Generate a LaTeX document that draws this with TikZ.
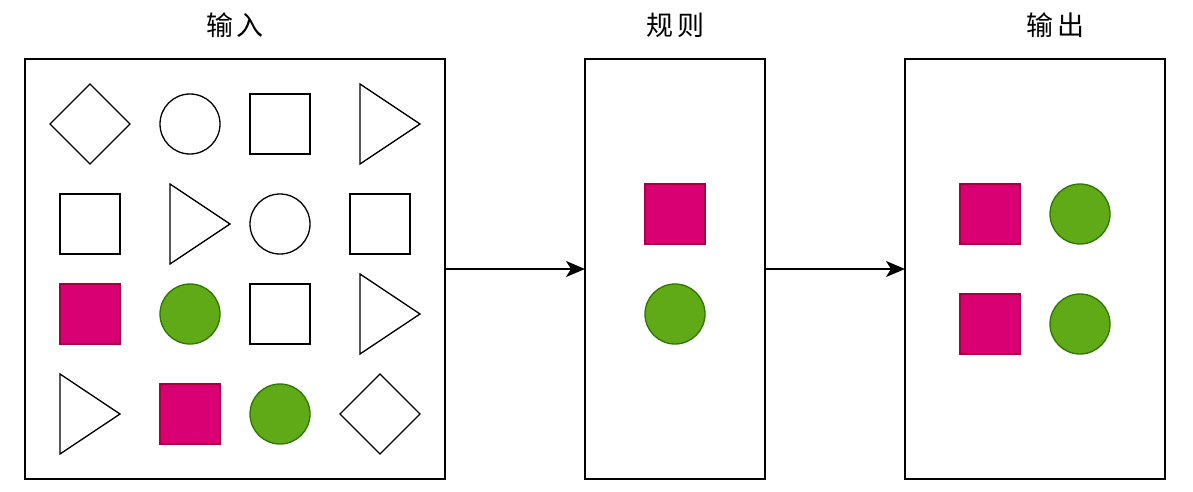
\documentclass[tikz,border=0pt]{standalone}
\usepackage{fontspec}
\newfontfamily\cjk{Noto Sans CJK SC}
\usetikzlibrary{arrows.meta}
\definecolor{pinkfill}{HTML}{D80073}
\definecolor{pinkline}{HTML}{A50040}
\definecolor{greenfill}{HTML}{60A917}
\definecolor{greenline}{HTML}{2D7600}
\tikzset{
  frame/.style={draw=black, line width=1.5pt, fill=white},
  outl/.style={draw=black, line width=1.3pt, fill=white},
  pinksq/.style={draw=pinkline, fill=pinkfill, line width=1.3pt},
  greenc/.style={draw=greenline, fill=greenfill, line width=1.3pt},
  title/.style={font=\cjk\fontsize{27}{30}\selectfont, inner sep=0pt},
  conn/.style={line width=1.4pt, -{Stealth[length=19pt,width=16pt,inset=5pt]}},
}
\begin{document}
\begin{tikzpicture}[x=1pt,y=-1pt]
\useasboundingbox (0,0) rectangle (1193,492);
% titles
\node[title] (t1) at (235,25) {输\kern4pt 入};
\node[title] (t2) at (675,25) {规\kern4pt 则};
\node[title] (t3) at (1055,25) {输\kern4pt 出};
% frames
\path[frame] (25,59) rectangle (445,479);
\coordinate (inR) at (445,269);
\path[frame] (585,59) rectangle (765,479);
\coordinate (ruL) at (585,269);
\coordinate (ruR) at (765,269);
\path[frame] (905,59) rectangle (1165,479);
\coordinate (ouL) at (905,269);
% input row 1
\path[outl] (90,84) -- (130,124) -- (90,164) -- (50,124) -- cycle;
\path[outl] (190,124) circle (30);
\path[outl] (250,94) rectangle (310,154);
\path[outl] (360,84) -- (420,124) -- (360,164) -- cycle;
% row 2
\path[outl] (60,194) rectangle (120,254);
\path[outl] (170,184) -- (230,224) -- (170,264) -- cycle;
\path[outl] (280,224) circle (30);
\path[outl] (350,194) rectangle (410,254);
% row 3
\path[pinksq] (60,284) rectangle (120,344);
\path[greenc] (190,314) circle (30);
\path[outl] (250,284) rectangle (310,344);
\path[outl] (360,274) -- (420,314) -- (360,354) -- cycle;
% row 4
\path[outl] (60,374) -- (120,414) -- (60,454) -- cycle;
\path[pinksq] (160,384) rectangle (220,444);
\path[greenc] (280,414) circle (30);
\path[outl] (380,374) -- (420,414) -- (380,454) -- (340,414) -- cycle;
% rules
\path[pinksq] (645,184) rectangle (705,244);
\path[greenc] (675,314) circle (30);
% output
\path[pinksq] (960,184) rectangle (1020,244);
\path[greenc] (1080,214) circle (30);
\path[pinksq] (960,294) rectangle (1020,354);
\path[greenc] (1080,324) circle (30);
% connectors
\draw[conn] (inR) -- (ruL);
\draw[conn] (ruR) -- (ouL);
\end{tikzpicture}
\end{document}
